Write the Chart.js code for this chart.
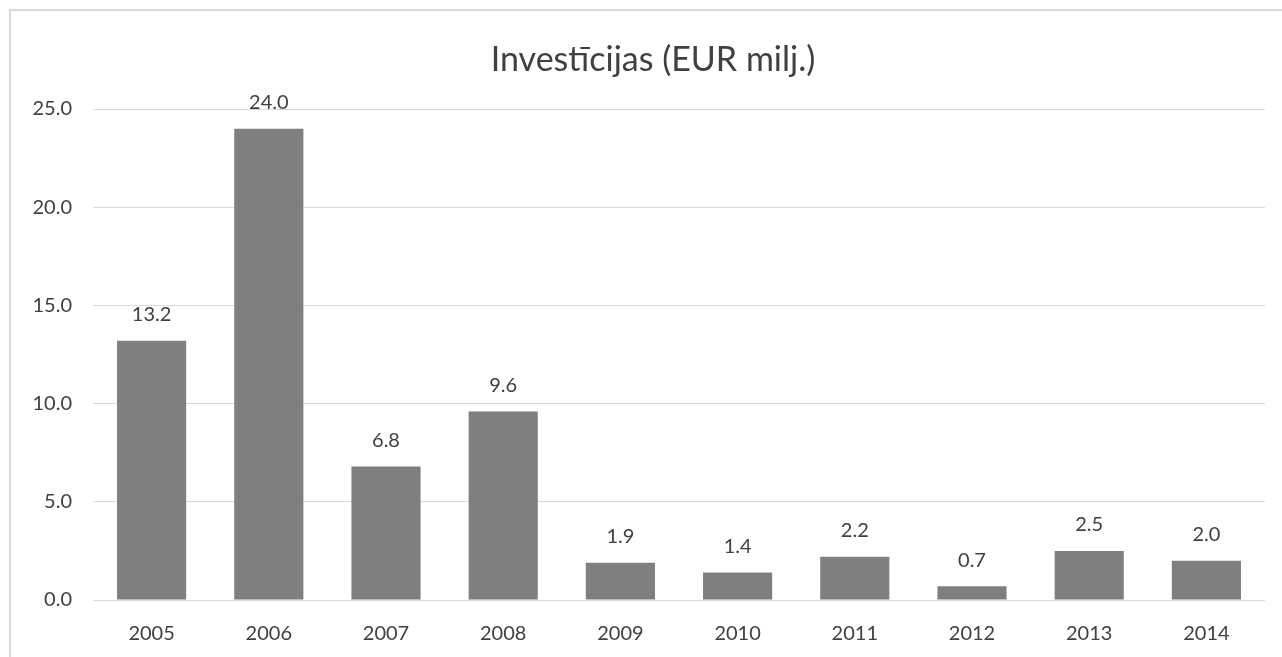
<!DOCTYPE html>
<html>
<head>
<meta charset="utf-8">
<script src="https://cdn.jsdelivr.net/npm/chart.js@4/dist/chart.umd.min.js"></script>
<style>
  html, body { margin: 0; padding: 0; background: #fff; overflow: hidden; }
  #wrap { position: relative; width: 1282px; height: 657px; }
  #frame { position: absolute; left: 9px; top: 9px; width: 1300px; height: 700px;
           border-top: 2px solid #d9d9d9; border-left: 2px solid #d9d9d9; }
  canvas { position: absolute; left: 0; top: 0; }
</style>
</head>
<body>
<div id="wrap">
  <div id="frame"></div>
  <canvas id="chart" width="1282" height="657"></canvas>
</div>
<script>
// dati
const years = ['2005', '2006', '2007', '2008', '2009', '2010', '2011', '2012', '2013', '2014'];
const investicijas = [13.2, 24.0, 6.8, 9.6, 1.9, 1.4, 2.2, 0.7, 2.5, 2.0];
const chartTitle = 'Investīcijas (EUR milj.)';

const FONT = 'Lato, "Open Sans", sans-serif';

// virsraksts (Excel to centrē pēc visa rāmja, ne pēc zīmēšanas laukuma)
const titlePlugin = {
    id: 'frameTitle',
    afterDraw(chart) {
        const { ctx } = chart;
        ctx.save();
        ctx.font = '34px ' + FONT;
        ctx.fillStyle = '#404040';
        ctx.textAlign = 'center';
        ctx.textBaseline = 'middle';
        ctx.fillText(chartTitle, 653, 60);
        ctx.restore();
    }
};

// vērtības virs stabiņiem
const valueLabels = {
    id: 'valueLabels',
    afterDatasetsDraw(chart) {
        const { ctx } = chart;
        const meta = chart.getDatasetMeta(0);
        ctx.save();
        ctx.font = '20px ' + FONT;
        ctx.fillStyle = '#404040';
        ctx.textAlign = 'center';
        ctx.textBaseline = 'bottom';
        meta.data.forEach((bar, i) => {
            ctx.fillText(investicijas[i].toFixed(1), bar.x, bar.y - 16);
        });
        ctx.restore();
    }
};

new Chart(document.getElementById('chart'), {
    type: 'bar',
    data: {
        labels: years,
        datasets: [{
            data: investicijas,
            backgroundColor: '#7f7f7f',
            borderWidth: 0,
            barPercentage: 0.59,
            categoryPercentage: 1.0
        }]
    },
    options: {
        responsive: false,
        animation: false,
        events: [],
        layout: { padding: { left: 10, right: 17, top: 109, bottom: 0 } },
        plugins: {
            legend: { display: false },
            tooltip: { enabled: false },
            title: { display: false }
        },
        scales: {
            x: {
                grid: { display: false },
                border: { display: false },
                ticks: { color: '#404040', font: { family: FONT, size: 20 }, padding: 14 },
                afterFit: (s) => { s.height = 57; }
            },
            y: {
                min: 0,
                max: 25,
                grid: { color: '#d9d9d9', lineWidth: 1, drawTicks: false },
                border: { display: false },
                ticks: {
                    stepSize: 5,
                    color: '#404040',
                    font: { family: FONT, size: 20 },
                    padding: 21,
                    callback: (v) => Number(v).toFixed(1)
                },
                afterFit: (s) => { s.width = 83; }
            }
        }
    },
    plugins: [valueLabels, titlePlugin]
});
</script>
</body>
</html>
